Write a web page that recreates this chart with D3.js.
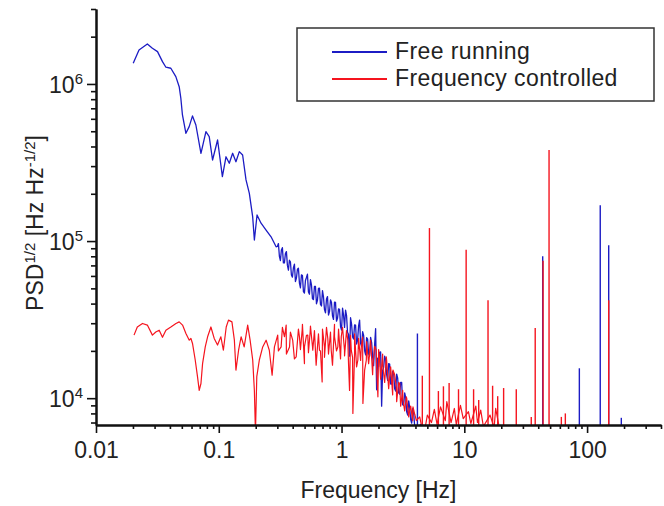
<!DOCTYPE html>
<html>
<head>
<meta charset="utf-8">
<script src="https://cdn.jsdelivr.net/npm/d3@7"></script>
<style>
	body { margin: 0; background: #fff; }
	svg text { font-family: Arial, 'Liberation Sans', sans-serif; fill: #222; }
</style>
</head>
<body>
<div id="chart"></div>
<script>
// free running: frequency [Hz] and PSD^1/2
const blueFreq = [
	0.0201, 0.0224, 0.0262, 0.0288, 0.0317, 0.0348, 0.0371, 0.0407, 0.0447, 0.0476,
	0.0491, 0.0506, 0.054, 0.0574, 0.0611, 0.0651, 0.0716, 0.0786, 0.0836, 0.089,
	0.0978, 0.107, 0.1145, 0.1218, 0.1297, 0.138, 0.147, 0.1564, 0.1667, 0.1774,
	0.1888, 0.195, 0.205, 0.221, 0.2428, 0.2667, 0.293,
	0.3003, 0.3118, 0.3237, 0.3361, 0.349, 0.3624, 0.3762, 0.3906, 0.4056, 0.4211,
	0.4372, 0.454, 0.4714, 0.4894, 0.5082, 0.5276, 0.5478, 0.5688, 0.5906, 0.6132,
	0.6367, 0.6611, 0.6864, 0.7127, 0.74, 0.7683, 0.7978, 0.8283, 0.86, 0.893,
	0.9275, 0.9631, 1.0, 1.038, 1.078, 1.119, 1.162, 1.207, 1.253, 1.301,
	1.351, 1.403, 1.457, 1.513, 1.571, 1.631, 1.693, 1.758, 1.825, 1.895,
	1.931, 1.968, 2.043, 2.121, 2.203, 2.287, 2.375, 2.466, 2.56, 2.658,
	2.76, 2.866, 2.975, 3.089, 3.207, 3.33, 3.458, 3.59, 3.728, 3.87,
	4.019, 4.4, 4.8, 5.5, 7.0
];
const blueVal = [
	1.355e6, 1.647e6, 1.798e6, 1.688e6, 1.606e6, 1.387e6, 1.278e6, 1.259e6, 1.113e6, 9.61e5,
	8.11e5, 6.35e5, 4.85e5, 5.35e5, 6.26e5, 5.48e5, 3.62e5, 4.97e5, 4.62e5, 3.28e5,
	4.4e5, 2.57e5, 3.44e5, 3.13e5, 3.62e5, 3.2e5, 3.71e5, 3.53e5, 2.45e5, 2.01e5,
	1.43e5, 1.015e5, 1.465e5, 1.3e5, 1.175e5, 1.065e5, 9.2e4,
	9.24e4, 8.0e4, 8.77e4, 7.26e4, 8.32e4, 7.0e4, 7.55e4, 6.08e4, 6.76e4, 5.53e4,
	6.61e4, 5.4e4, 6.1e4, 4.76e4, 5.61e4, 6.15e4, 4.59e4, 5.26e4, 4.24e4, 5.14e4,
	4.2e4, 5.02e4, 3.86e4, 4.41e4, 3.49e4, 4.43e4, 3.56e4, 4.06e4, 3.17e4, 4.07e4,
	3.22e4, 3.68e4, 2.71e4, 3.38e4, 3.64e4, 2.63e4, 1.85e4, 2.96e4, 2.38e4, 2.92e4,
	2.34e4, 3.14e4, 2.14e4, 2.51e4, 1.89e4, 2.38e4, 1.85e4, 2.26e4, 1.61e4, 2.77e4,
	1.13e4, 1.8e4, 1.96e4, 8.9e3, 1.57e4, 1.77e4, 1.3e4, 1.65e4, 1.23e4, 1.44e4,
	1.11e4, 1.34e4, 1.06e4, 1.26e4, 9.0e3, 1.01e4, 7.8e3, 8.7e3, 6.93e3, 7.97e3,
	6.0e3, 6.8e3, 6.0e3, 6.3e3, 6.0e3
];
// the densely sampled part between the bins above
const blueFreqFine = [
	0.306, 0.3177, 0.3298, 0.3425, 0.3556, 0.3693, 0.3833, 0.398, 0.4133, 0.4291,
	0.4455, 0.4626, 0.4803, 0.4987, 0.5178, 0.5376, 0.5582, 0.5796, 0.6018, 0.6248,
	0.6488, 0.6736, 0.6994, 0.7262, 0.754, 0.7829, 0.8129, 0.844, 0.8763, 0.9099,
	0.9451, 0.9814, 1.019, 1.058, 1.098, 1.14, 1.184, 1.23, 1.277, 1.326,
	1.377, 1.43, 1.485, 1.542, 1.601, 1.662, 1.725, 1.791, 1.86, 2.005,
	2.082, 2.161, 2.245, 2.33, 2.42, 2.513, 2.609, 2.708, 2.812, 2.92,
	3.031, 3.148, 3.268, 3.393, 3.524, 3.658, 3.799, 3.944
];
const blueValFine = [
	9.64e4, 7.52e4, 9.08e4, 7.26e4, 8.57e4, 6.53e4, 7.38e4, 5.89e4, 7.13e4, 5.82e4,
	6.71e4, 5.04e4, 6.04e4, 4.67e4, 5.86e4, 4.74e4, 5.69e4, 4.3e4, 5.15e4, 3.99e4,
	5.0e4, 3.95e4, 4.84e4, 3.66e4, 4.28e4, 3.38e4, 4.23e4, 3.34e4, 4.09e4, 3.09e4,
	3.7e4, 2.86e4, 3.74e4, 2.82e4, 3.37e4, 2.54e4, 3.25e4, 2.45e4, 2.93e4, 2.21e4,
	2.89e4, 2.23e4, 2.65e4, 2.0e4, 2.43e4, 1.91e4, 2.44e4, 1.84e4, 2.19e4, 1.59e4,
	1.97e4, 1.5e4, 1.85e4, 1.41e4, 1.66e4, 1.23e4, 1.48e4, 1.15e4, 1.42e4, 1.08e4,
	1.26e4, 9.1e3, 1.08e4, 8.2e3, 9.6e3, 7.3e3, 8.6e3, 6.6e3
];

// frequency controlled
const redFreq = [
	0.0204, 0.0217, 0.0239, 0.0262, 0.0288, 0.0307, 0.0327, 0.0348, 0.0371, 0.0407,
	0.0448, 0.0476, 0.0507, 0.054, 0.0575, 0.0593, 0.0611, 0.0643, 0.0671, 0.0693,
	0.0716, 0.0738, 0.0776, 0.0811, 0.0863, 0.0918, 0.0977, 0.104, 0.109, 0.115,
	0.12, 0.128, 0.134, 0.138, 0.145, 0.152, 0.161, 0.172, 0.18, 0.189,
	0.195, 0.199, 0.204, 0.214, 0.228, 0.243, 0.258, 0.272, 0.284, 0.302,
	0.322, 0.343, 0.354, 0.377, 0.4, 0.427, 0.454, 0.478, 0.499, 0.531,
	0.555, 0.583, 0.621, 0.661, 0.695, 0.726, 0.773, 0.824, 0.877, 0.933,
	0.995, 1.057, 1.125, 1.162, 1.2, 1.237, 1.277, 1.358, 1.449, 1.493,
	1.592, 1.694, 1.803, 1.919, 1.978, 2.042, 2.173, 2.316, 2.465, 2.624,
	2.794, 2.974, 3.164, 3.37, 3.59, 3.82, 4.07, 4.33, 4.62,
	4.8, 5.0, 5.4, 5.7, 6.0, 6.4, 7.0, 7.2, 7.8, 8.3,
	8.6, 9.3, 9.8, 10.8, 11.3, 12.4, 12.8, 13.6, 14.3, 16.2,
	17.5, 18.0, 19.5, 22.0
];
const redVal = [
	2.52e4, 2.84e4, 2.99e4, 2.92e4, 2.52e4, 2.64e4, 2.71e4, 2.44e4, 2.71e4, 2.84e4,
	2.99e4, 3.06e4, 2.92e4, 2.58e4, 2.34e4, 2.4e4, 2.23e4, 1.75e4, 1.37e4, 1.12e4,
	1.24e4, 1.66e4, 2.12e4, 2.46e4, 2.84e4, 2.4e4, 2.18e4, 2.46e4, 2.02e4, 2.84e4,
	3.14e4, 3.06e4, 2.34e4, 1.51e4, 2.02e4, 2.46e4, 2.12e4, 2.92e4, 2.34e4, 1.75e4,
	1.12e4, 6.0e3, 1.37e4, 1.75e4, 2.12e4, 2.34e4, 2.02e4, 1.4e4, 2.12e4, 2.52e4,
	2.12e4, 2.46e4, 2.92e4, 2.12e4, 2.34e4, 1.83e4, 2.46e4, 2.71e4, 2.12e4, 2.52e4,
	2.64e4, 2.02e4, 1.62e4, 2.02e4, 1.27e4, 2.12e4, 2.4e4, 2.02e4, 2.46e4, 2.12e4,
	2.46e4, 2.02e4, 2.34e4, 1.12e4, 2.02e4, 8.0e3, 1.93e4, 1.75e4, 2.12e4, 9.25e3,
	1.75e4, 1.93e4, 1.62e4, 2.02e4, 1.02e4, 1.75e4, 1.58e4, 1.83e4, 1.37e4, 1.51e4,
	1.18e4, 1.24e4, 9.7e3, 1.02e4, 8.4e3, 8.8e3, 7.2e3, 7.6e3, 6.0e3,
	6.5e3, 7.8e3, 7.0e3, 8.5e3, 6.8e3, 8.8e3, 7.2e3, 9.5e3, 7.0e3, 8.6e3,
	6.8e3, 9.0e3, 7.4e3, 8.2e3, 6.9e3, 8.9e3, 7.0e3, 8.4e3, 6.6e3, 7.8e3,
	6.5e3, 8.6e3, 6.2e3, 6.0e3
];
const redFreqFine = [
	0.306, 0.3298, 0.3556, 0.3833, 0.4133, 0.4455, 0.4626, 0.4803, 0.4987, 0.5178,
	0.5376, 0.5582, 0.5796, 0.6018, 0.6248, 0.6488, 0.6736, 0.6994, 0.7262, 0.754,
	0.7829, 0.8129, 0.844, 0.8763, 0.9099, 0.9451, 0.9814, 1.019, 1.058, 1.098,
	1.14, 1.184, 1.23, 1.277, 1.326, 1.377, 1.43, 1.485, 1.542, 1.601,
	1.662, 1.725, 1.791, 1.86, 1.931, 2.005, 2.082, 2.161, 2.245, 2.33,
	2.42, 2.513, 2.609, 2.708, 2.812, 2.92, 3.031, 3.148, 3.268, 3.393,
	3.524, 3.658, 3.799, 3.944
];
const redValFine = [
	2.0e4, 2.82e4, 1.91e4, 2.63e4, 1.78e4, 2.75e4, 2.04e4, 2.95e4, 1.66e4, 2.51e4,
	1.95e4, 2.88e4, 2.14e4, 2.69e4, 1.74e4, 2.57e4, 2.0e4, 2.75e4, 1.82e4, 2.82e4,
	1.91e4, 2.63e4, 1.62e4, 2.95e4, 2.0e4, 2.75e4, 1.78e4, 2.82e4, 1.86e4, 2.69e4,
	1.66e4, 2.51e4, 1.82e4, 2.57e4, 1.58e4, 2.4e4, 1.74e4, 2.45e4, 1.51e4, 2.29e4,
	1.66e4, 2.34e4, 1.41e4, 2.14e4, 1.58e4, 2.04e4, 1.32e4, 1.91e4, 1.26e4, 1.74e4,
	1.15e4, 1.58e4, 1.05e4, 1.41e4, 9.5e3, 1.26e4, 8.9e3, 1.12e4, 8.3e3, 1.0e4,
	7.6e3, 8.9e3, 7.2e3, 7.9e3
];

// narrow lines (single bins) rising out of the floor
const blueSpikeFreq = [4.15, 43.5, 86.5, 128, 150, 190];
const blueSpikeVal = [2.58e4, 8.0e4, 1.55e4, 1.69e5, 9.4e4, 7.5e3];
const redSpikeFreq = [4.55, 5.2, 6.15, 6.76, 7.52, 8.97, 10.35, 11.9, 13.1, 15.6, 17.0, 18.7, 20.9, 26.5, 35.1, 37.8, 43.8, 49.0, 61.7, 66.5, 150];
const redSpikeVal = [1.39e4, 1.21e5, 1.11e4, 1.19e4, 1.25e4, 1.14e4, 8.8e4, 1.14e4, 9.75e3, 4.2e4, 1.2e4, 1.03e4, 1.16e4, 1.14e4, 7.6e3, 2.8e4, 7.5e4, 3.8e5, 7.6e3, 8.0e3, 4.2e4];

const xTickValues = [0.01, 0.1, 1, 10, 100];
const xTickLabels = ['0.01', '0.1', '1', '10', '100'];
const yTickValues = [1e4, 1e5, 1e6];
const yTickExp = ['4', '5', '6'];
const seriesNames = ['Free running', 'Frequency controlled'];
const seriesColors = ['#1c1cc4', '#f5141e'];

const width = 664, height = 506;
const margin = { top: 9, left: 96, right: 3, bottom: 81 };

let svg = d3.select('#chart').append('svg')
	.attr('width', width)
	.attr('height', height);

let x = d3.scaleLog()
	.domain([0.01, 400])
	.range([margin.left, width - margin.right]);
let y = d3.scaleLog()
	.domain([6750, 3e6])
	.range([height - margin.bottom, margin.top]);

svg.append('clipPath').attr('id', 'plotClip')
	.append('rect')
	.attr('x', margin.left)
	.attr('y', 0)
	.attr('width', width - margin.left)
	.attr('height', height - margin.bottom);

let plot = svg.append('g').attr('clip-path', 'url(#plotClip)');

let line = d3.line()
	.x(d => x(d[0]))
	.y(d => y(d[1]));

function series(freqs, vals, fineFreqs, fineVals) {
	let pts = freqs.map((f, i) => [f, vals[i]])
		.concat(fineFreqs.map((f, i) => [f, fineVals[i]]));
	return pts.sort((a, b) => a[0] - b[0]);
}

let blue = series(blueFreq, blueVal, blueFreqFine, blueValFine);
let red = series(redFreq, redVal, redFreqFine, redValFine);

// spikes go up from the bottom of the frame
function drawSpikes(freqs, vals, color) {
	plot.append('g').selectAll('line')
		.data(freqs.map((f, i) => [f, vals[i]]))
		.join('line')
		.attr('x1', d => x(d[0]))
		.attr('x2', d => x(d[0]))
		.attr('y1', y(y.domain()[0]))
		.attr('y2', d => y(d[1]))
		.attr('stroke', color)
		.attr('stroke-width', 1.4);
}

drawSpikes(blueSpikeFreq, blueSpikeVal, seriesColors[0]);
plot.append('path')
	.datum(blue)
	.attr('fill', 'none')
	.attr('stroke', seriesColors[0])
	.attr('stroke-width', 1.3)
	.attr('stroke-linejoin', 'round')
	.attr('d', line);

drawSpikes(redSpikeFreq, redSpikeVal, seriesColors[1]);
plot.append('path')
	.datum(red)
	.attr('fill', 'none')
	.attr('stroke', seriesColors[1])
	.attr('stroke-width', 1.2)
	.attr('stroke-linejoin', 'round')
	.attr('d', line);

// axes: major ticks with labels, minor ticks from the log scale
let xMinor = x.ticks().filter(t => !xTickValues.some(v => Math.abs(v / t - 1) < 1e-6));
let yMinor = y.ticks().filter(t => !yTickValues.some(v => Math.abs(v / t - 1) < 1e-6));

let axesG = svg.append('g').attr('class', 'axes');

axesG.append('g')
	.attr('transform', `translate(0,${height - margin.bottom})`)
	.call(d3.axisBottom(x).tickValues(xMinor).tickSize(4).tickSizeOuter(0).tickFormat(''));
let gX = axesG.append('g')
	.attr('transform', `translate(0,${height - margin.bottom})`)
	.call(d3.axisBottom(x).tickValues(xTickValues).tickSize(8).tickSizeOuter(0)
		.tickFormat((d, i) => xTickLabels[i]));
gX.selectAll('text')
	.attr('y', 12)
	.attr('dy', '0.9em')
	.style('font-size', '23px')
	.style('font-family', 'Arial, "Liberation Sans", sans-serif')
	.attr('fill', '#222');

axesG.append('g')
	.attr('transform', `translate(${margin.left},0)`)
	.call(d3.axisLeft(y).tickValues(yMinor).tickSize(5).tickSizeOuter(0).tickFormat(''));
let gY = axesG.append('g')
	.attr('transform', `translate(${margin.left},0)`)
	.call(d3.axisLeft(y).tickValues(yTickValues).tickSize(9).tickSizeOuter(0).tickFormat(''));

axesG.selectAll('.domain').attr('stroke', '#111').attr('stroke-width', 2);
axesG.selectAll('.tick line').attr('stroke', '#111').attr('stroke-width', 1.6);

// 10^n labels
let yLab = svg.append('g').selectAll('text')
	.data(yTickValues)
	.join('text')
	.attr('x', 83)
	.attr('y', d => y(d) + 9)
	.attr('text-anchor', 'end')
	.style('font-size', '23px');
yLab.append('tspan').text('10');
yLab.append('tspan')
	.attr('dy', -9)
	.style('font-size', '15px')
	.text((d, i) => yTickExp[i]);

// axis titles
svg.append('text')
	.attr('x', (x.range()[0] + x.range()[1]) / 2)
	.attr('y', 498)
	.attr('text-anchor', 'middle')
	.style('font-size', '23px')
	.text('Frequency [Hz]');

let yTitle = svg.append('text')
	.attr('transform', 'translate(43,223) rotate(-90)')
	.attr('text-anchor', 'middle')
	.style('font-size', '23px');
yTitle.append('tspan').text('PSD');
yTitle.append('tspan').attr('dy', -8).style('font-size', '15px').text('1/2');
yTitle.append('tspan').attr('dy', 8).text(' [Hz Hz');
yTitle.append('tspan').attr('dy', -8).style('font-size', '15px').text('-1/2');
yTitle.append('tspan').attr('dy', 8).text(']');

// legend
let legend = svg.append('g').attr('class', 'legend');
legend.append('rect')
	.attr('x', 297)
	.attr('y', 28)
	.attr('width', 357)
	.attr('height', 73)
	.attr('fill', '#fff')
	.attr('stroke', '#333')
	.attr('stroke-width', 1.5);
let items = legend.selectAll('g.item')
	.data(seriesNames)
	.join('g')
	.attr('class', 'item')
	.attr('transform', (d, i) => `translate(0,${52 + i * 27})`);
items.append('line')
	.attr('x1', 332)
	.attr('x2', 387)
	.attr('stroke', (d, i) => seriesColors[i])
	.attr('stroke-width', 2);
items.append('text')
	.attr('x', 395)
	.attr('y', 7)
	.style('font-size', '23px')
	.style('letter-spacing', '0.4px')
	.text(d => d);
</script>
</body>
</html>
